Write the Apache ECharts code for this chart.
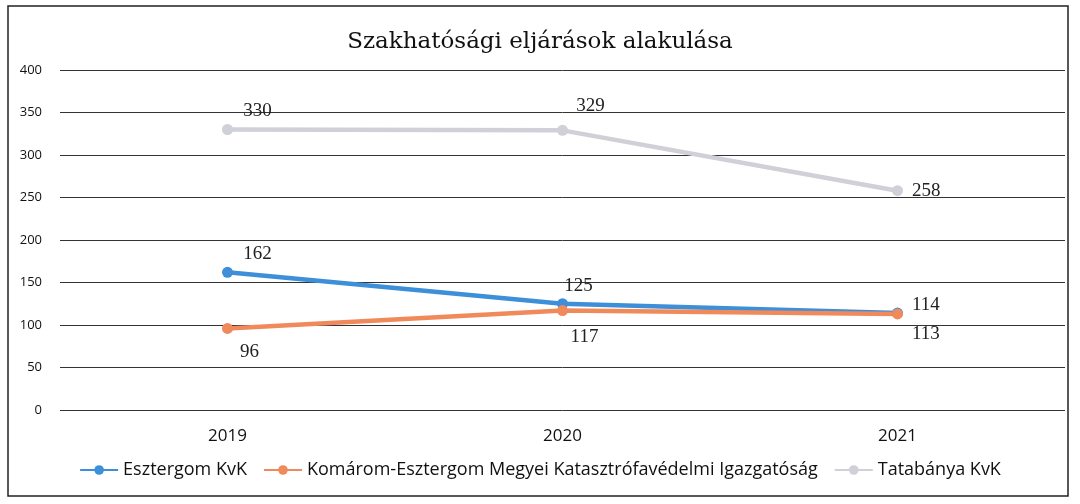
<!DOCTYPE html>
<html>
<head>
<meta charset="utf-8">
<script src="https://cdn.jsdelivr.net/npm/echarts@6/dist/echarts.min.js"></script>
<style>
  html, body { margin: 0; padding: 0; background: #fff; }
  #chart { width: 1080px; height: 504px; }
</style>
</head>
<body>
<div id="chart"></div>
<script>
// ── Data ──────────────────────────────────────────────────────────────────
const YEARS = ['2019', '2020', '2021']
const ESZTERGOM = [162, 125, 114]
const KOMAROM = [96, 117, 113]
const TATABANYA = [330, 329, 258]
const SERIES_NAMES = [
  'Esztergom KvK',
  'Komárom-Esztergom Megyei Katasztrófavédelmi Igazgatóság',
  'Tatabánya KvK'
]

// label placement per point (style only)
const LABEL_POS = {
  esz: [['top', [30, 2]], ['top', [16, 2]], ['right', [4, -8]]],
  kom: [['bottom', [22, 4]], ['bottom', [22, 6]], ['right', [4, 20]]],
  tat: [['top', [30, 2]], ['top', [28, -4]], ['right', [4, 0]]]
}

const serifFont = '"Liberation Serif", "DejaVu Serif", serif'
const sansFont = '"Open Sans", "Liberation Sans", sans-serif'

function buildData(values, positions) {
  return values.map((v, i) => ({
    value: v,
    label: { position: positions[i][0], offset: positions[i][1] }
  }))
}

function lineSeries(name, values, positions, color) {
  return {
    name,
    type: 'line',
    data: buildData(values, positions),
    symbol: 'circle',
    symbolSize: 11,
    lineStyle: { color, width: 4.5 },
    itemStyle: { color },
    label: {
      show: true,
      color: '#222',
      fontFamily: serifFont,
      fontSize: 19
    }
  }
}

const chart = echarts.init(document.getElementById('chart'))
chart.setOption({
  backgroundColor: '#fff',
  animation: false,
  title: {
    text: 'Szakhatósági eljárások alakulása',
    left: 'center',
    top: 26,
    textStyle: { fontFamily: '"DejaVu Serif", serif', fontWeight: 'normal', fontSize: 23, color: '#111' }
  },
  graphic: [{
    type: 'rect',
    shape: { x: 8, y: 6, width: 1060, height: 490 },
    style: { fill: 'none', stroke: '#222', lineWidth: 1.5 }
  }],
  legend: {
    bottom: 20,
    left: 'center',
    itemWidth: 38,
    itemHeight: 12,
    itemGap: 16,
    textStyle: { fontFamily: sansFont, fontSize: 18, color: '#111' },
    data: SERIES_NAMES
  },
  grid: { left: 60, right: 15, top: 70, bottom: 94 },
  xAxis: {
    type: 'category',
    data: YEARS,
    boundaryGap: true,
    axisLine: { show: false },
    axisTick: { show: false },
    axisLabel: { fontFamily: sansFont, fontSize: 17, color: '#111', margin: 18 }
  },
  yAxis: {
    type: 'value',
    min: 0,
    max: 400,
    interval: 50,
    axisLine: { show: false },
    axisTick: { show: false },
    axisLabel: { fontFamily: sansFont, fontSize: 13, color: '#111', margin: 18 },
    splitLine: { lineStyle: { color: '#333', width: 1 } }
  },
  series: [
    lineSeries(SERIES_NAMES[0], ESZTERGOM, LABEL_POS.esz, '#3d8fd9'),
    lineSeries(SERIES_NAMES[1], KOMAROM, LABEL_POS.kom, '#f08a5a'),
    lineSeries(SERIES_NAMES[2], TATABANYA, LABEL_POS.tat, '#cfd0d8')
  ]
})
</script>
</body>
</html>
